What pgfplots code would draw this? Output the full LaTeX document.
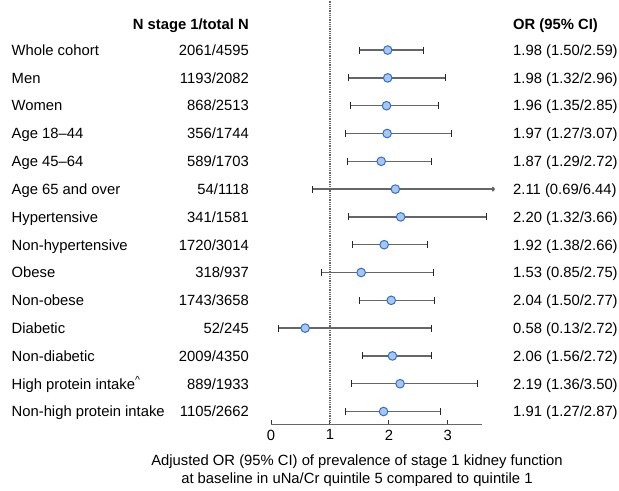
\documentclass[border=0pt]{standalone}
\usepackage{fontspec}
\setmainfont{Liberation Sans}
\usepackage{pgfplots}
\usepackage{pgfplotstable}
\pgfplotsset{compat=1.18}
\usetikzlibrary{arrows.meta}
\definecolor{mfill}{HTML}{A9C6EE}
\definecolor{mdraw}{HTML}{3270C8}
\definecolor{cigray}{HTML}{666666}

% row: 14 = top (Whole cohort) ... 1 = bottom
\pgfplotstableread{
row or   lo   hi
14  1.98 1.50 2.59
13  1.98 1.32 2.96
12  1.96 1.35 2.85
11  1.97 1.27 3.07
10  1.87 1.29 2.72
9   2.11 0.69 6.44
8   2.20 1.32 3.66
7   1.92 1.38 2.66
6   1.53 0.85 2.75
5   2.04 1.50 2.77
4   0.58 0.13 2.72
3   2.06 1.56 2.72
2   2.19 1.36 3.50
1   1.91 1.27 2.87
}\ortable

\newcommand{\rowtext}[4]{%
  \node[anchor=west,text height=10.6bp,text depth=0pt,inner sep=0pt] at ([xshift=-259.5bp]axis cs:0,#1) {#2};
  \node[anchor=east,text height=10.6bp,text depth=0pt,inner sep=0pt] at ([xshift=-22bp]axis cs:0,#1) {#3};
  \node[anchor=west,text height=10.6bp,text depth=0pt,inner sep=0pt] at ([xshift=242bp]axis cs:0,#1) {#4};
}

\begin{document}
\fontsize{14.8bp}{17bp}\selectfont
\begin{tikzpicture}
\begin{axis}[
  name=ax, at={(0,0)}, anchor=south west,
  scale only axis, width=211bp, height=424bp,
  xmin=0, xmax=3.58, ymin=0.53, ymax=15.78,
  axis x line=bottom, axis y line=none,
  axis line style={-, draw=cigray, line width=1.5bp},
  xtick={0,1,2,3}, ytick=\empty,
  tick align=inside, major tick length=5bp,
  tick style={draw=black!80, line width=0.9bp},
  ticklabel style={font=\fontsize{14.8bp}{17bp}\selectfont},
  /pgf/number format/assume math mode=true,
  clip=false,
]
% reference line at OR = 1
\addplot[draw=black!60, line width=1.2bp, dash pattern=on 1bp off 0.8bp] coordinates {(1,0.53) (1,15.78)};
% Age 65 and over: CI exceeds axis, drawn with arrow
\addplot[draw=cigray, line width=1.5bp, {Bar[width=7bp,line width=1bp,black!85]}-{To[length=3bp,width=5bp]}] coordinates {(0.69,9) (3.8,9)};
% confidence intervals
\addplot[draw=none, mark=none, skip coords between index={5}{6},
  error bars/.cd, x dir=both, x explicit,
  error bar style={draw=cigray, line width=1.5bp},
  error mark options={draw=black!85, line width=1bp, mark size=3.5bp, rotate=90}]
  table[x=or, y=row, x error plus expr=\thisrow{hi}-\thisrow{or}, x error minus expr=\thisrow{or}-\thisrow{lo}] {\ortable};
% point estimates
\addplot[only marks, mark=*, mark size=4.3bp, mark options={fill=mfill, draw=mdraw, line width=1bp}]
  table[x=or, y=row] {\ortable};

% headers
\node[anchor=east,text height=10.6bp,text depth=0pt,inner sep=0pt,font=\bfseries] at ([xshift=-22bp,yshift=-2bp]axis cs:0,15) {N stage 1/total N};
\node[anchor=west,text height=10.6bp,text depth=0pt,inner sep=0pt,font=\bfseries] at ([xshift=242bp,yshift=-2bp]axis cs:0,15) {OR (95\% CI)};

\rowtext{14}{Whole cohort}{2061/4595}{1.98 (1.50/2.59)}
\rowtext{13}{Men}{1193/2082}{1.98 (1.32/2.96)}
\rowtext{12}{Women}{868/2513}{1.96 (1.35/2.85)}
\rowtext{11}{Age 18--44}{356/1744}{1.97 (1.27/3.07)}
\rowtext{10}{Age 45--64}{589/1703}{1.87 (1.29/2.72)}
\rowtext{9}{Age 65 and over}{54/1118}{2.11 (0.69/6.44)}
\rowtext{8}{Hypertensive}{341/1581}{2.20 (1.32/3.66)}
\rowtext{7}{Non-hypertensive}{1720/3014}{1.92 (1.38/2.66)}
\rowtext{6}{Obese}{318/937}{1.53 (0.85/2.75)}
\rowtext{5}{Non-obese}{1743/3658}{2.04 (1.50/2.77)}
\rowtext{4}{Diabetic}{52/245}{0.58 (0.13/2.72)}
\rowtext{3}{Non-diabetic}{2009/4350}{2.06 (1.56/2.72)}
\rowtext{2}{High protein intake\textsuperscript{\textasciicircum}}{889/1933}{2.19 (1.36/3.50)}
\rowtext{1}{Non-high protein intake}{1105/2662}{1.91 (1.27/2.87)}

% x label
\node[anchor=center,text height=10.6bp,text depth=0pt,inner sep=0pt] at ([yshift=-36bp]axis cs:1.458,0.53) {Adjusted OR (95\% CI) of prevalence of stage 1 kidney function};
\node[anchor=center,text height=10.6bp,text depth=0pt,inner sep=0pt] at ([yshift=-54bp]axis cs:1.458,0.53) {at baseline in uNa/Cr quintile 5 compared to quintile 1};
\end{axis}
\path ([xshift=-271bp,yshift=-66bp]ax.south west) rectangle ([xshift=348bp,yshift=424bp]ax.south west);
\end{tikzpicture}
\end{document}
